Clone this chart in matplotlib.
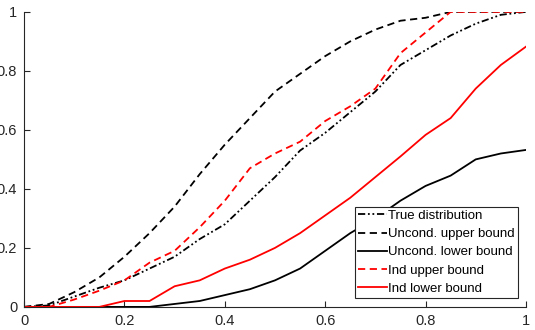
import numpy as np
import matplotlib
matplotlib.use("Agg")
import matplotlib.pyplot as plt

plt.rcParams['font.family'] = ['Liberation Sans', 'DejaVu Sans']

# grid of thresholds
x = [0, 0.05, 0.1, 0.15, 0.2, 0.25, 0.3, 0.35, 0.4, 0.45, 0.5,
     0.55, 0.6, 0.65, 0.7, 0.75, 0.8, 0.85, 0.9, 0.95, 1.0]

true_dist = [0, 0.005, 0.035, 0.065, 0.09, 0.13, 0.17, 0.23, 0.28, 0.36, 0.44,
             0.53, 0.59, 0.66, 0.73, 0.82, 0.87, 0.92, 0.96, 0.99, 1.0]
uncond_upper = [0, 0.01, 0.05, 0.1, 0.17, 0.25, 0.34, 0.45, 0.55, 0.64, 0.73,
                0.79, 0.85, 0.90, 0.94, 0.97, 0.98, 1.0, 1.0, 1.0, 1.0]
uncond_lower = [0, 0, 0, 0, 0, 0, 0.01, 0.02, 0.04, 0.06, 0.09,
                0.13, 0.19, 0.25, 0.30, 0.36, 0.41, 0.445, 0.50, 0.52, 0.532]
ind_upper = [0, 0, 0.025, 0.055, 0.09, 0.15, 0.19, 0.27, 0.36, 0.47, 0.52,
             0.56, 0.63, 0.68, 0.74, 0.86, 0.93, 1.0, 1.0, 1.0, 1.0]
ind_lower = [0, 0, 0, 0, 0.02, 0.02, 0.07, 0.09, 0.13, 0.16, 0.20,
             0.25, 0.31, 0.37, 0.44, 0.51, 0.583, 0.64, 0.74, 0.82, 0.882]

fig = plt.figure(figsize=(5.35, 3.3), dpi=100)
ax = fig.add_axes([0.045, 0.07, 0.938, 0.894])

lw = 1.3
ax.plot(x, true_dist, color='black', linestyle=(0, (4, 1.5, 1, 1.5, 1, 1.5)), lw=lw, label='True distribution')
ax.plot(x, uncond_upper, color='black', linestyle=(0, (4, 2.5)), lw=lw, label='Uncond. upper bound')
ax.plot(x, uncond_lower, color='black', linestyle='-', lw=lw, label='Uncond. lower bound')
ax.plot(x, ind_upper, color='red', linestyle=(0, (4, 2.5)), lw=lw, label='Ind upper bound')
ax.plot(x, ind_lower, color='red', linestyle='-', lw=lw, label='Ind lower bound')

ax.set_xlim(0, 1)
ax.set_ylim(0, 1)
ticks = [0, 0.2, 0.4, 0.6, 0.8, 1]
labels = ['0', '0.2', '0.4', '0.6', '0.8', '1']
ax.set_xticks(ticks)
ax.set_xticklabels(labels)
ax.set_yticks(ticks)
ax.set_yticklabels(labels)
ax.tick_params(direction='in', length=4, width=0.8, labelsize=10.5, colors='#262626', pad=5)

for s in ['top', 'right']:
    ax.spines[s].set_visible(False)
for s in ['left', 'bottom']:
    ax.spines[s].set_color('#262626')
    ax.spines[s].set_linewidth(0.8)

leg = ax.legend(loc='lower right', bbox_to_anchor=(0.985, 0.03), fontsize=9.5,
                frameon=True, fancybox=False, handlelength=2.2, handletextpad=0.1,
                borderpad=0.25, labelspacing=0.45, borderaxespad=0)
leg.get_frame().set_edgecolor('#262626')
leg.get_frame().set_linewidth(0.8)
leg.get_frame().set_alpha(1)

fig.savefig('out.png', dpi=100)
